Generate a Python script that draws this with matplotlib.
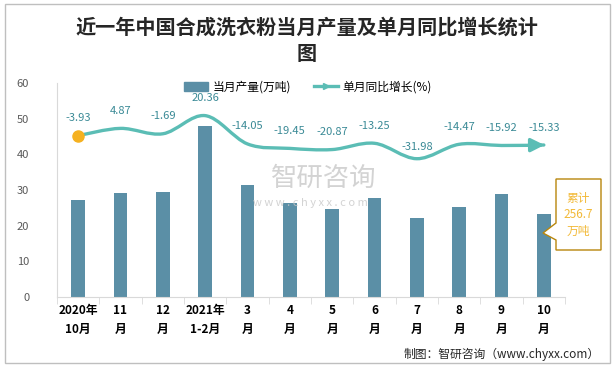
import matplotlib
matplotlib.use("Agg")
import matplotlib.pyplot as plt
import numpy as np
from matplotlib.path import Path
from matplotlib.patches import PathPatch, Polygon, Rectangle
from matplotlib.lines import Line2D

plt.rcParams['font.family'] = ['Noto Sans CJK SC', 'DejaVu Sans']

# data
months = ['2020年\n10月', '11\n月', '12\n月', '2021年\n1-2月', '3\n月', '4\n月',
          '5\n月', '6\n月', '7\n月', '8\n月', '9\n月', '10\n月']
output = [27.2, 29.1, 29.4, 47.9, 31.4, 26.3, 24.6, 27.7, 22.1, 25.2, 28.8, 23.2]
growth = [-3.93, 4.87, -1.69, 20.36, -14.05, -19.45, -20.87, -13.25, -31.98,
          -14.47, -15.92, -15.33]
total_text = '累计\n256.7\n万吨'

bar_color = '#5B8FA6'
line_color = '#5BBDB5'
label_color = '#3A8A96'

W, H = 616, 370
fig = plt.figure(figsize=(W / 100, H / 100), dpi=100)
ax = fig.add_axes([57 / W, 1 - 297 / H, 508 / W, 214 / H])
ax2 = ax.twinx()

x = np.arange(len(months))
ax.bar(x, output, width=0.33, color=bar_color, zorder=2)
ax.set_xlim(-0.5, len(months) - 0.5)
ax.set_ylim(0, 60)
ax.set_yticks(range(0, 61, 10))
ax.tick_params(axis='y', length=0, pad=20, labelsize=8, labelcolor='#595959')
ax.set_xticks(x)
ax.set_xticklabels(months, fontsize=8.5, fontweight='bold', linespacing=1.6)
ax.set_xticks(np.arange(-0.5, len(months)), minor=True)
ax.tick_params(axis='x', which='major', length=0, pad=5)
ax.tick_params(axis='x', which='minor', length=5, color='#D9D9D9')
for s in ['top', 'right']:
    ax.spines[s].set_visible(False)
ax.spines['left'].set_color('#D9D9D9')
ax.spines['bottom'].set_color('#D9D9D9')

# growth line on hidden secondary axis, smoothed with bezier segments
ax2.set_ylim(-200, 60)
ax2.axis('off')
pts = np.column_stack([x, growth])
verts = [tuple(pts[0])]
codes = [Path.MOVETO]
n = len(pts)
for i in range(n - 1):
    p0 = pts[max(i - 1, 0)]
    p1 = pts[i]
    p2 = pts[i + 1]
    p3 = pts[min(i + 2, n - 1)]
    c1 = p1 + (p2 - p0) / 6
    c2 = p2 - (p3 - p1) / 6
    verts += [tuple(c1), tuple(c2), tuple(p2)]
    codes += [Path.CURVE4] * 3
ax2.add_patch(PathPatch(Path(verts, codes), fill=False, edgecolor=line_color,
                        lw=2.4, capstyle='round', zorder=3))
ax2.annotate('', xy=(x[-1] + 0.08, growth[-1]), xytext=(x[-1] - 0.2, growth[-1] - 0.1),
             arrowprops=dict(arrowstyle='-|>,head_length=0.8,head_width=0.4',
                             color=line_color, lw=2.4))
ax2.plot(x[0], growth[0], 'o', color='#F5B120', ms=8, zorder=4)

for xi, g in zip(x, growth):
    dy = 5 if g < -30 else 9
    ax2.annotate(f'{g:.2f}', (xi, g), xytext=(0, dy), textcoords='offset points',
                 ha='center', va='bottom', fontsize=8, color=label_color)

# legend
handles = [Rectangle((0, 0), 1, 1, color=bar_color),
           Line2D([0], [0], color=line_color, lw=2.4, marker='>', markevery=[1], ms=5)]
fig.legend(handles, ['当月产量(万吨)', '单月同比增长(%)'], loc='center',
           bbox_to_anchor=(308 / W, 1 - 87 / H), ncol=2, frameon=False, fontsize=8.5,
           handlelength=2.0, columnspacing=2.0, handletextpad=0.4)

# title
fig.text(307 / W, 1 - 27 / H, '近一年中国合成洗衣粉当月产量及单月同比增长统计',
         ha='center', va='center', fontsize=14.5, fontweight='bold', color='#262626')
fig.text(307 / W, 1 - 53 / H, '图', ha='center', va='center', fontsize=14.5,
         fontweight='bold', color='#262626')

# watermark
fig.text(324 / W, 1 - 178 / H, '智研咨询', ha='center', va='center', fontsize=19,
         color='#C8C8C8', alpha=0.8, zorder=0)
fig.text(310 / W, 1 - 203 / H, 'w w w . c h y x x . c o m', ha='center', va='center',
         fontsize=8, color='#C8C8C8', alpha=0.8)

# callout box with cumulative total
box = [(556, 179), (601, 179), (601, 250), (556, 250), (556, 240), (543, 233), (556, 223)]
box = [(px / W, 1 - py / H) for px, py in box]
fig.patches.append(Polygon(box, closed=True, transform=fig.transFigure, facecolor='white',
                           edgecolor='#B8860B', lw=1.0, zorder=5))
fig.text(578 / W, 1 - 215 / H, total_text, ha='center', va='center', fontsize=8.5,
         color='#F2B937', linespacing=1.3, zorder=6)

# footer
fig.text(600 / W, 1 - 354 / H, '制图：智研咨询（www.chyxx.com）', ha='right', va='center',
         fontsize=8.5, color='#262626')

# outer border
fig.patches.append(Rectangle((5 / W, 1 - 363 / H), 605 / W, 359 / H, transform=fig.transFigure,
                             fill=False, edgecolor='#BFBFBF', lw=1.0))

fig.savefig('out.png', dpi=100)
